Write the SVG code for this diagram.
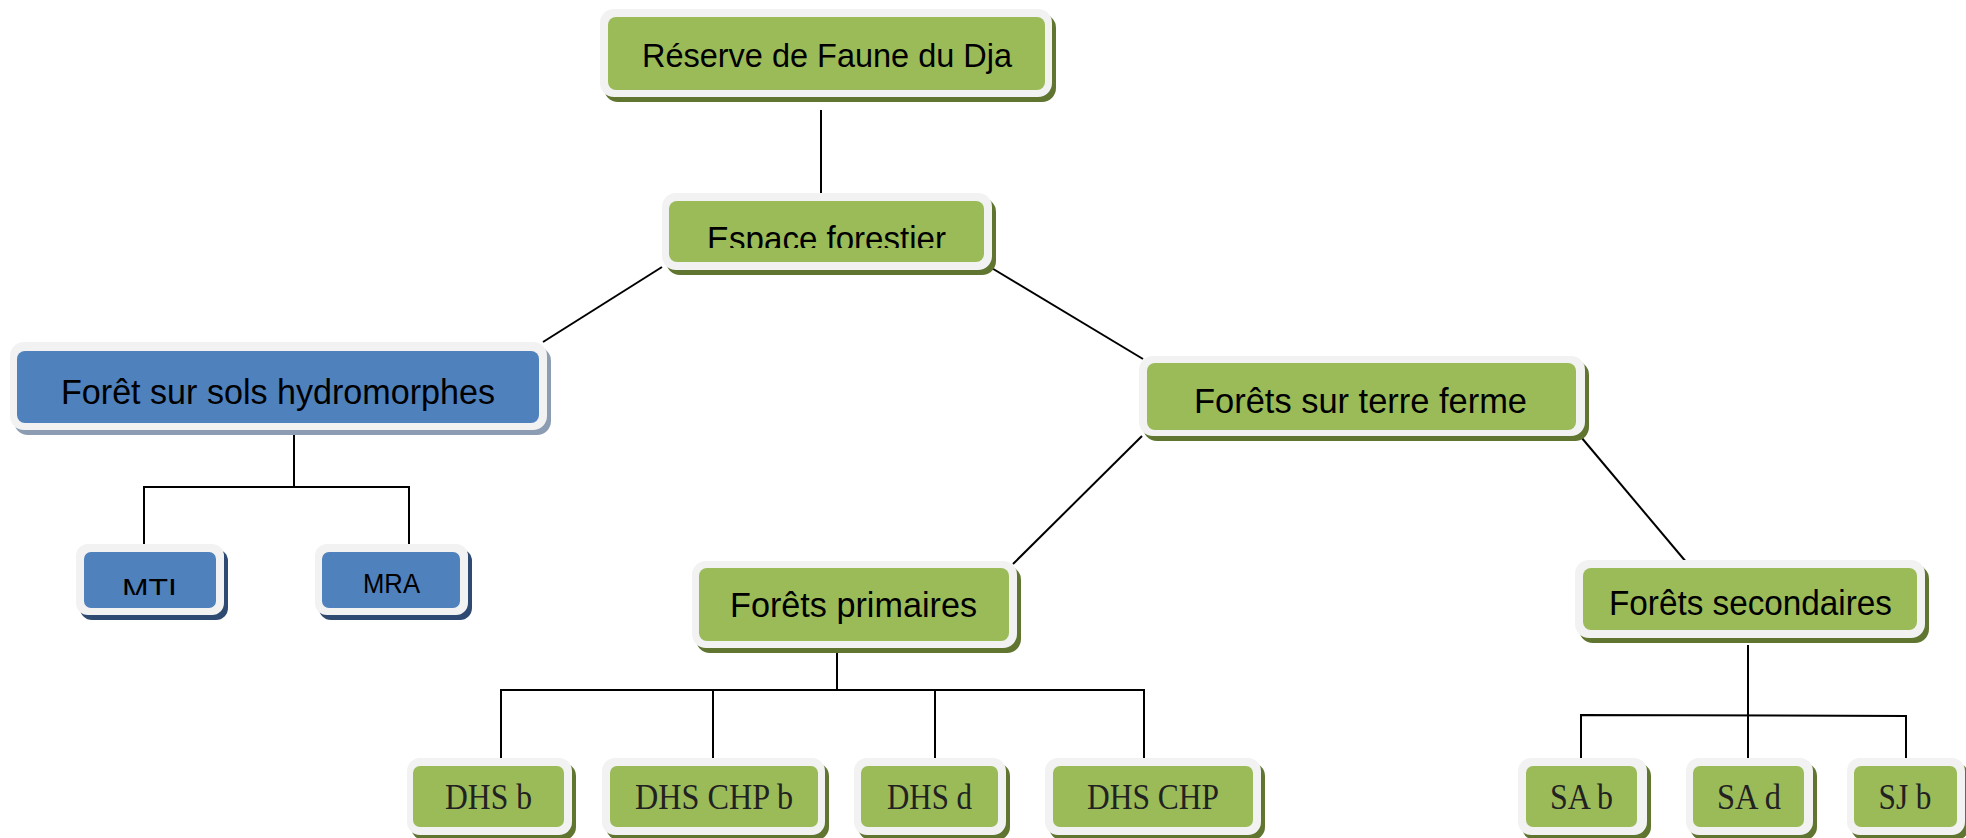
<svg xmlns="http://www.w3.org/2000/svg" width="1966" height="838" viewBox="0 0 1966 838">
<style>
.bg{fill:#ffffff}
.out{fill:#f2f2f2}
.g{fill:#9bbb59}
.b{fill:#4f81bd}
.shg{fill:#5f7530}
.shb{fill:#8c9cb2}
.shn{fill:#2f4a72}
.t{font-family:"Liberation Sans","Open Sans",Arial,sans-serif;fill:#000;text-anchor:middle}
.s{font-family:"Liberation Serif","Times New Roman",serif;fill:#222;text-anchor:middle;font-size:35px}
.c{stroke:#000;stroke-width:2;fill:none}
</style>
<defs>
<clipPath id="clipEsp"><rect x="660" y="190" width="340" height="58"/></clipPath>
<clipPath id="clipMti"><rect x="80" y="540" width="150" height="55"/></clipPath>
</defs>
<rect class="bg" x="0" y="0" width="1966" height="838"/>
<g id="connectors">
<line class="c" x1="821" y1="110" x2="821" y2="195"/>
<line class="c" x1="662" y1="267" x2="543" y2="342"/>
<line class="c" x1="990" y1="267" x2="1143" y2="359"/>
<polyline class="c" points="294,431 294,487"/>
<polyline class="c" points="144,547 144,487 409,487 409,547"/>
<line class="c" x1="1142" y1="436" x2="1013" y2="564"/>
<line class="c" x1="1581" y1="437" x2="1687" y2="563"/>
<polyline class="c" points="837,647 837,690"/>
<polyline class="c" points="501,762 501,690 1144,690 1144,762"/>
<line class="c" x1="713" y1="690" x2="713" y2="762"/>
<line class="c" x1="935" y1="690" x2="935" y2="762"/>
<polyline class="c" points="1748,645 1748,762"/>
<polyline class="c" points="1581,762 1581,715 1906,716 1906,762"/>
</g>
<g id="n-reserve">
<rect class="shg" x="604" y="14" width="452" height="88" rx="14"/>
<rect class="out" x="600" y="9" width="452" height="88" rx="14"/>
<rect class="g" x="608" y="17" width="437" height="73" rx="8"/>
<text class="t" x="827" y="67" font-size="34" textLength="370" lengthAdjust="spacingAndGlyphs">Réserve de Faune du Dja</text>
</g>
<g id="n-espace">
<rect class="shg" x="666" y="198" width="330" height="77" rx="14"/>
<rect class="out" x="662" y="193" width="330" height="77" rx="14"/>
<rect class="g" x="669" y="201" width="315" height="61" rx="8"/>
<text class="t" x="826.5" y="251" font-size="35" textLength="239" lengthAdjust="spacingAndGlyphs" clip-path="url(#clipEsp)">Espace forestier</text>
</g>
<g id="n-hydro">
<rect class="shb" x="14" y="347" width="537" height="88" rx="14"/>
<rect class="out" x="10" y="342" width="537" height="88" rx="14"/>
<rect class="b" x="17" y="351" width="522" height="72" rx="8"/>
<text class="t" x="278" y="404" font-size="35" textLength="434" lengthAdjust="spacingAndGlyphs">Forêt sur sols hydromorphes</text>
</g>
<g id="n-terre">
<rect class="shg" x="1143" y="361" width="446" height="80" rx="14"/>
<rect class="out" x="1139" y="356" width="446" height="80" rx="14"/>
<rect class="g" x="1147" y="363" width="429" height="67" rx="8"/>
<text class="t" x="1360.5" y="413" font-size="35" textLength="333" lengthAdjust="spacingAndGlyphs">Forêts sur terre ferme</text>
</g>
<g id="n-mti">
<rect class="shn" x="80" y="549" width="148" height="71" rx="12"/>
<rect class="out" x="76" y="544" width="148" height="71" rx="12"/>
<rect class="b" x="84" y="552" width="132" height="56" rx="7"/>
<text class="t" x="149.5" y="598" font-size="28" textLength="55" lengthAdjust="spacingAndGlyphs" clip-path="url(#clipMti)">MTI</text>
</g>
<g id="n-mra">
<rect class="shn" x="319" y="549" width="153" height="71" rx="12"/>
<rect class="out" x="315" y="544" width="153" height="71" rx="12"/>
<rect class="b" x="322" y="552" width="138" height="56" rx="7"/>
<text class="t" x="391.5" y="593" font-size="28" textLength="57" lengthAdjust="spacingAndGlyphs">MRA</text>
</g>
<g id="n-primaires">
<rect class="shg" x="696" y="566" width="325" height="87" rx="14"/>
<rect class="out" x="692" y="561" width="325" height="87" rx="14"/>
<rect class="g" x="699" y="568" width="310" height="73" rx="8"/>
<text class="t" x="853.5" y="617" font-size="35" textLength="247" lengthAdjust="spacingAndGlyphs">Forêts primaires</text>
</g>
<g id="n-secondaires">
<rect class="shg" x="1579" y="565" width="350" height="78" rx="14"/>
<rect class="out" x="1575" y="560" width="350" height="78" rx="14"/>
<rect class="g" x="1583" y="568" width="334" height="62" rx="8"/>
<text class="t" x="1750.5" y="615" font-size="35" textLength="283" lengthAdjust="spacingAndGlyphs">Forêts secondaires</text>
</g>
<g id="n-dhsb">
<rect class="shg" x="411" y="763" width="165" height="77" rx="13"/>
<rect class="out" x="407" y="758" width="165" height="77" rx="13"/>
<rect class="g" x="413" y="766" width="151" height="61" rx="7"/>
<text class="s" x="488.5" y="809" textLength="87" lengthAdjust="spacingAndGlyphs">DHS b</text>
</g>
<g id="n-dhschpb">
<rect class="shg" x="606" y="763" width="223" height="77" rx="13"/>
<rect class="out" x="602" y="758" width="223" height="77" rx="13"/>
<rect class="g" x="610" y="766" width="208" height="61" rx="7"/>
<text class="s" x="714" y="809" textLength="158" lengthAdjust="spacingAndGlyphs">DHS CHP b</text>
</g>
<g id="n-dhsd">
<rect class="shg" x="858" y="763" width="152" height="77" rx="13"/>
<rect class="out" x="854" y="758" width="152" height="77" rx="13"/>
<rect class="g" x="861" y="766" width="137" height="61" rx="7"/>
<text class="s" x="929.5" y="809" textLength="85" lengthAdjust="spacingAndGlyphs">DHS d</text>
</g>
<g id="n-dhschp">
<rect class="shg" x="1049" y="763" width="216" height="77" rx="13"/>
<rect class="out" x="1045" y="758" width="216" height="77" rx="13"/>
<rect class="g" x="1053" y="766" width="200" height="61" rx="7"/>
<text class="s" x="1153" y="809" textLength="132" lengthAdjust="spacingAndGlyphs">DHS CHP</text>
</g>
<g id="n-sab">
<rect class="shg" x="1522" y="763" width="129" height="77" rx="13"/>
<rect class="out" x="1518" y="758" width="129" height="77" rx="13"/>
<rect class="g" x="1526" y="766" width="111" height="61" rx="7"/>
<text class="s" x="1581.5" y="809" textLength="63" lengthAdjust="spacingAndGlyphs">SA b</text>
</g>
<g id="n-sad">
<rect class="shg" x="1690" y="763" width="127" height="77" rx="13"/>
<rect class="out" x="1686" y="758" width="127" height="77" rx="13"/>
<rect class="g" x="1693" y="766" width="111" height="61" rx="7"/>
<text class="s" x="1749" y="809" textLength="64" lengthAdjust="spacingAndGlyphs">SA d</text>
</g>
<g id="n-sjb">
<rect class="shg" x="1851" y="763" width="118" height="77" rx="13"/>
<rect class="out" x="1847" y="758" width="118" height="77" rx="13"/>
<rect class="g" x="1854" y="766" width="103" height="61" rx="7"/>
<text class="s" x="1905" y="809" textLength="53" lengthAdjust="spacingAndGlyphs">SJ b</text>
</g>
</svg>
